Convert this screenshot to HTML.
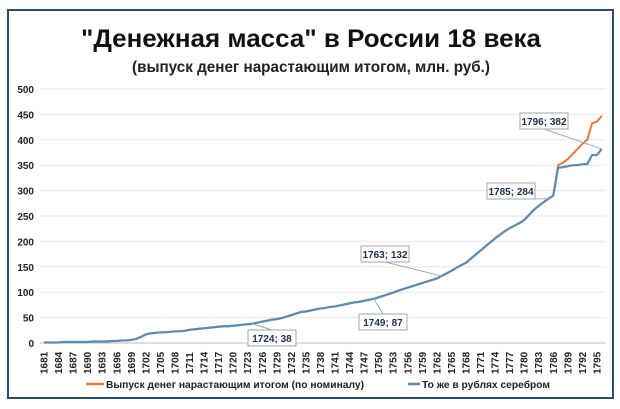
<!DOCTYPE html>
<html><head><meta charset="utf-8"><style>
body{margin:0;background:#fff;}
svg{display:block;font-family:"Liberation Sans",sans-serif;}
</style></head><body>
<svg id="chart" width="620" height="409" viewBox="0 0 620 409">
<rect x="8" y="10" width="605" height="388" fill="#fff" stroke="#2e4a6e" stroke-width="2"/>
<text x="311" y="47" text-anchor="middle" font-size="25" font-weight="bold" fill="#111" textLength="460" lengthAdjust="spacingAndGlyphs">"Денежная масса" в России 18 века</text>
<text x="311" y="72" text-anchor="middle" font-size="16" font-weight="bold" fill="#222" textLength="358" lengthAdjust="spacingAndGlyphs">(выпуск денег нарастающим итогом, млн. руб.)</text>
<g id="grid"></g><g id="yticks"></g><g id="xticks"></g><g id="series"></g><g id="callouts"></g>
<g>
<line x1="86" y1="384" x2="104" y2="384" stroke="#e07b39" stroke-width="2.5"/>
<text x="106" y="388" font-size="10" font-weight="bold" fill="#222" textLength="258" lengthAdjust="spacingAndGlyphs">Выпуск денег нарастающим итогом (по номиналу)</text>
<line x1="408" y1="384" x2="420" y2="384" stroke="#5b8bb5" stroke-width="2.5"/>
<text x="422" y="388" font-size="10" font-weight="bold" fill="#222" textLength="128" lengthAdjust="spacingAndGlyphs">То же в рублях серебром</text>
</g>
</svg>
<script>
const startYear = 1681;
const silverValues = [1,1,1,1,2,2,2,2,2,2, 3,3,3,3,4,4,5,5,6,8, 12,17,19,20,21,21,22,23,23,24, 26,27,28,29,30,31,32,33,33,34, 35,36,37,38,40,42,44,46,47,49, 52,55,58,61,62,64,66,68,69,71, 72,74,76,78,80,81,83,85,87,90, 93,96,99,103,106,109,112,115,118,121, 124,127,132,137,142,148,153,158,166,174, 182,190,198,206,213,220,226,231,236,242, 252,262,270,277,284,290,345,346,348,350, 350,352,352,370,370,382];
const nominalTail = [350,355,362,372,382,392,400,432,436,447];
const yTicks = [0,50,100,150,200,250,300,350,400,450,500];
const callouts = [[1724,38],[1749,87],[1763,132],[1785,284],[1796,382]];
const calloutBoxes = [[272,338],[383,322],[385,254],[511,191],[544,121]];

const NS = "http://www.w3.org/2000/svg";
const years = silverValues.map((v,i)=>startYear+i);
const nominalValues = silverValues.slice(0, silverValues.length - nominalTail.length).concat(nominalTail);
function xs(y){return 44 + (y-1681)*4.85;}
function ys(v){return 343 - v*0.508;}
function mk(tag, attrs, parent){const e=document.createElementNS(NS,tag);for(const k in attrs)e.setAttribute(k,attrs[k]);parent.appendChild(e);return e;}

const grid=document.getElementById('grid'), yt=document.getElementById('yticks'), xt=document.getElementById('xticks');
yTicks.forEach(t=>{
  const l=mk('line',{x1:40,x2:606,y1:ys(t),y2:ys(t),stroke:t===0?'#bbb':'#e6e6e6','stroke-width':1},grid);
  
  
  const tx=mk('text',{x:34,y:ys(t)+4,'text-anchor':'end','font-size':10,'font-weight':'bold',fill:'#222'},yt);
  tx.textContent=t;
  
  
});
years.forEach((y,i)=>{
  if(i%3!==0) return;
  const tx=mk('text',{x:0,y:0,transform:`translate(${xs(y)+3.5},374) rotate(-90)`,'font-size':10,'font-weight':'bold',fill:'#222'},xt);
  tx.textContent=y;
  
  
});
const s=document.getElementById('series');
const pn=mk('polyline',{points:nominalValues.map((v,i)=>xs(years[i])+','+ys(v)).join(' '),fill:'none',stroke:'#e07b39','stroke-width':2},s);


const ps=mk('polyline',{points:silverValues.map((v,i)=>xs(years[i])+','+ys(v)).join(' '),fill:'none',stroke:'#5b8bb5','stroke-width':2.2},s);


const c=document.getElementById('callouts');
callouts.forEach((d,i)=>{
  const [bx,by]=calloutBoxes[i];
  const px=xs(d[0]), py=ys(d[1]);
  const ln=mk('line',{x1:px,y1:py,x2:bx,y2:by+(by<py?8:-8),stroke:'#9ab',"stroke-width":1},c);
  
  
  const r=mk('rect',{x:bx-24,y:by-8,width:48,height:16,fill:'#fff',stroke:'#9aa','stroke-width':1},c);
  
  
  const t=mk('text',{x:bx,y:by+4,'text-anchor':'middle','font-size':10,'font-weight':'bold',fill:'#1f2f4a'},c);
  t.textContent=d[0]+'; '+d[1];
  
  
});
</script>
</body></html>
